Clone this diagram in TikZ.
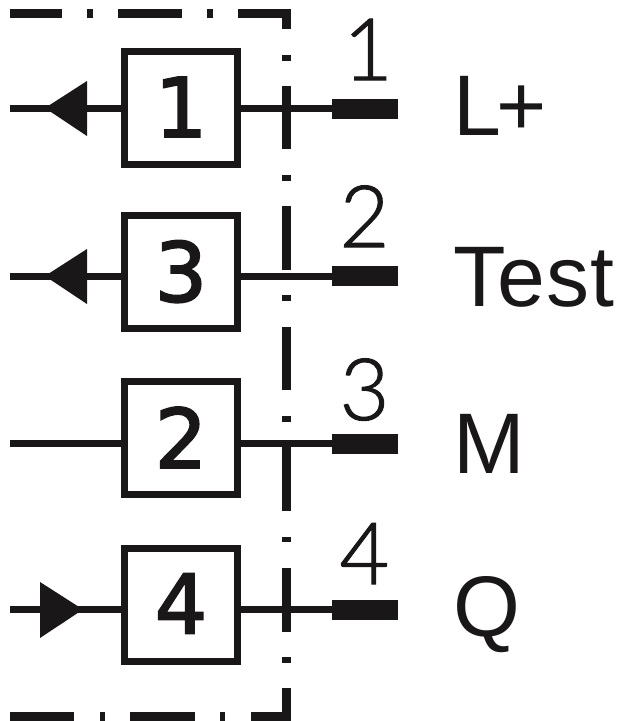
\documentclass[tikz,border=0pt]{standalone}
\usepackage{fontspec}
\setmainfont{Liberation Sans}
\newfontfamily\numfont[FakeBold=1.2]{Lato Light}
\newfontfamily\boxfont[FakeBold=2.5]{DejaVu Sans}
\definecolor{ink}{HTML}{1A1718}
\tikzset{
  numbox/.style={draw=ink,line width=7pt,minimum size=113pt,inner sep=0pt,font=\boxfont\fontsize{82}{82}\selectfont,text=ink},
  pad/.style={fill=ink,minimum width=66pt,minimum height=20pt,inner sep=0pt},
  wire/.style={draw=ink,line width=7pt},
  frame/.style={fill=ink},
  tag/.style={anchor=base west,text=ink,font=\fontsize{86}{86}\selectfont,inner sep=0pt},
  pinno/.style={anchor=base,text=ink,font=\numfont\fontsize{86}{86}\selectfont,inner sep=0pt},
}
\begin{document}
\begin{tikzpicture}[x=1pt,y=-1pt]
\useasboundingbox (0,0) rectangle (618,721);
\node[numbox] (b1) at (181,108) {\raisebox{2pt}{1}};
\node[numbox] (b3) at (181,272) {\raisebox{2pt}{3}};
\node[numbox] (b2) at (181,438) {\raisebox{1pt}{2}};
\node[numbox] (b4) at (181,605) {\raisebox{3pt}{4}};
\node[pad] (p1) at (365,108.5) {};
\node[pad] (p2) at (365,276) {};
\node[pad] (p3) at (365,443.5) {};
\node[pad] (p4) at (365,610) {};
\coordinate (l1) at (10,108);
\coordinate (l3) at (10,276);
\coordinate (l2) at (10,443);
\coordinate (l4) at (10,609.5);
\draw[wire] (l1) -- (b1.west |- l1);
\draw[wire] (l3) -- (b3.west |- l3);
\draw[wire] (l2) -- (b2.west |- l2);
\draw[wire] (l4) -- (b4.west |- l4);
\draw[wire] (b1.east |- l1) -- (p1.west |- l1);
\draw[wire] (b3.east |- l3) -- (p2.west |- l3);
\draw[wire] (b2.east |- l2) -- (p3.west |- l2);
\draw[wire] (b4.east |- l4) -- (p4.west |- l4);
\fill[ink] (45,108) -- (87,81) -- (87,136) -- cycle;
\fill[ink] (45,276) -- (87,249) -- (87,304) -- cycle;
\fill[ink] (83,609.5) -- (40,582) -- (40,638) -- cycle;
\foreach \a/\b in {10/62,87/93,118/182,207/213,238/291}
  \fill[frame] (\a,9) rectangle (\b,18);
\foreach \a/\b in {10/74,100/105,130/195,220/225,251/291}
  \fill[frame] (\a,712) rectangle (\b,721);
\foreach \a/\b in {9/29,55/60.5,86/149,175/181,206/270,295/301,327/390,416/422,445/511,537/542,568/632,657/663,688/721}
  \fill[frame] (282,\a) rectangle (291,\b);
\node[pinno] (n1) at (368,80) {1};
\node[pinno] (n2) at (364.5,247) {2};
\node[pinno] (n3) at (364.5,420) {3};
\node[pinno] (n4) at (364.5,584) {4};
\node[tag] (t1) at (453,135) {L\kern-5pt +};
\node[tag] (t2) at (453,306) {\addfontfeature{LetterSpace=1.2}Test};
\node[tag] (t3) at (453,473) {M};
\node[tag] (t4) at (453,636) {Q};
\end{tikzpicture}
\end{document}
